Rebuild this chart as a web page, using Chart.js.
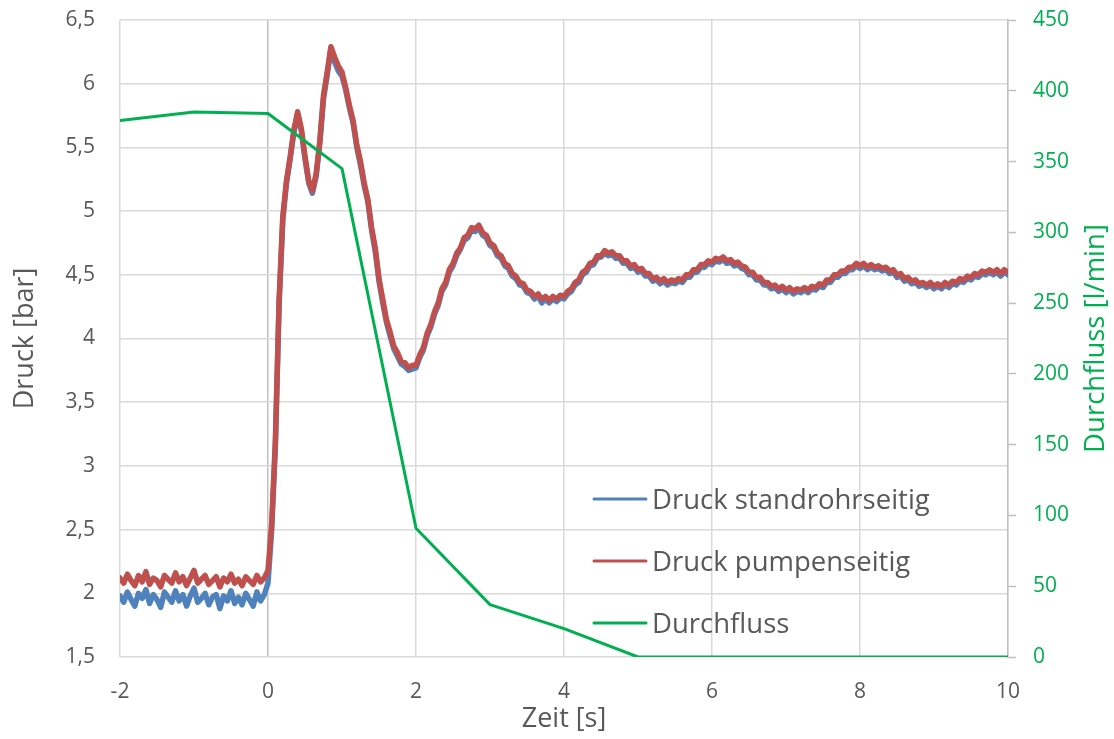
<!DOCTYPE html>
<html lang="de">
<head>
<meta charset="utf-8">
<title>Druck und Durchfluss</title>
<script src="https://cdn.jsdelivr.net/npm/chart.js@4/dist/chart.umd.min.js"></script>
<style>
  html, body { margin: 0; padding: 0; background: #ffffff; }
  #wrap { width: 1114px; height: 739px; }
</style>
</head>
<body>
<div id="wrap"><canvas id="druckChart" width="1114" height="739"></canvas></div>
<script>
// Messwerte: Zeitraster 0,05 s von -2 s bis 10 s
const zeit = [];
for (let i = 0; i <= 240; i++) zeit.push(-2 + i * 0.05);

// Druck standrohrseitig [bar], eine Zeile je Sekunde (20 Werte)
const druckStandrohr = [
  1.98, 1.93, 2.01, 1.95, 1.90, 2.00, 1.96, 2.03, 1.92, 1.99, 1.95, 1.89, 2.01, 1.97, 1.93, 2.02, 1.94, 1.99, 1.90, 1.98,
  2.04, 1.93, 1.96, 2.00, 1.91, 1.97, 1.99, 1.88, 1.98, 1.94, 2.02, 1.92, 1.97, 1.91, 2.00, 1.95, 1.90, 2.01, 1.94, 1.99,
  2.08, 2.50, 3.16, 4.27, 4.93, 5.22, 5.41, 5.62, 5.76, 5.63, 5.41, 5.22, 5.14, 5.27, 5.53, 5.88, 6.07, 6.27, 6.17, 6.10,
  6.06, 5.95, 5.81, 5.69, 5.50, 5.36, 5.20, 5.07, 4.85, 4.68, 4.45, 4.28, 4.13, 4.02, 3.92, 3.86, 3.80, 3.78, 3.75, 3.76,
  3.77, 3.85, 3.91, 4.02, 4.09, 4.19, 4.26, 4.37, 4.42, 4.52, 4.57, 4.65, 4.70, 4.77, 4.79, 4.85, 4.84, 4.87, 4.81, 4.79,
  4.73, 4.71, 4.65, 4.63, 4.57, 4.55, 4.49, 4.47, 4.42, 4.41, 4.36, 4.35, 4.31, 4.33, 4.28, 4.31, 4.28, 4.31, 4.29, 4.32,
  4.31, 4.35, 4.37, 4.42, 4.44, 4.50, 4.52, 4.57, 4.58, 4.63, 4.64, 4.67, 4.65, 4.66, 4.63, 4.63, 4.59, 4.59, 4.55, 4.56,
  4.52, 4.53, 4.49, 4.49, 4.45, 4.46, 4.43, 4.45, 4.42, 4.44, 4.43, 4.45, 4.44, 4.48, 4.48, 4.52, 4.52, 4.56, 4.56, 4.59,
  4.58, 4.61, 4.60, 4.62, 4.59, 4.60, 4.57, 4.58, 4.55, 4.54, 4.50, 4.50, 4.46, 4.46, 4.42, 4.42, 4.39, 4.40, 4.37, 4.39,
  4.36, 4.38, 4.35, 4.37, 4.36, 4.38, 4.36, 4.39, 4.38, 4.41, 4.40, 4.44, 4.44, 4.48, 4.48, 4.51, 4.51, 4.54, 4.54, 4.57,
  4.55, 4.57, 4.54, 4.56, 4.54, 4.55, 4.53, 4.54, 4.51, 4.52, 4.48, 4.49, 4.45, 4.46, 4.43, 4.44, 4.41, 4.42, 4.40, 4.42,
  4.39, 4.41, 4.39, 4.42, 4.40, 4.43, 4.42, 4.45, 4.44, 4.47, 4.46, 4.49, 4.48, 4.51, 4.50, 4.52, 4.50, 4.52, 4.49, 4.52,
  4.50
];

// Druck pumpenseitig [bar]
const druckPumpe = [
  2.12, 2.08, 2.15, 2.10, 2.06, 2.14, 2.09, 2.17, 2.07, 2.12, 2.10, 2.05, 2.14, 2.11, 2.08, 2.16, 2.09, 2.13, 2.06, 2.12,
  2.18, 2.08, 2.11, 2.14, 2.07, 2.10, 2.13, 2.05, 2.12, 2.09, 2.15, 2.08, 2.11, 2.06, 2.13, 2.10, 2.07, 2.14, 2.09, 2.12,
  2.18, 2.55, 3.20, 4.30, 4.96, 5.24, 5.43, 5.64, 5.78, 5.65, 5.43, 5.24, 5.16, 5.29, 5.55, 5.91, 6.09, 6.29, 6.21, 6.14,
  6.09, 5.97, 5.83, 5.71, 5.52, 5.39, 5.22, 5.09, 4.87, 4.71, 4.47, 4.31, 4.15, 4.05, 3.94, 3.89, 3.82, 3.81, 3.77, 3.79,
  3.79, 3.87, 3.93, 4.04, 4.11, 4.21, 4.28, 4.39, 4.44, 4.54, 4.59, 4.67, 4.71, 4.79, 4.81, 4.87, 4.86, 4.89, 4.83, 4.81,
  4.75, 4.73, 4.67, 4.65, 4.59, 4.57, 4.51, 4.49, 4.44, 4.43, 4.38, 4.37, 4.33, 4.35, 4.31, 4.33, 4.30, 4.33, 4.31, 4.34,
  4.33, 4.37, 4.39, 4.44, 4.46, 4.52, 4.54, 4.59, 4.60, 4.65, 4.65, 4.69, 4.67, 4.68, 4.65, 4.65, 4.61, 4.61, 4.57, 4.58,
  4.54, 4.55, 4.51, 4.51, 4.47, 4.48, 4.45, 4.47, 4.44, 4.46, 4.45, 4.47, 4.46, 4.50, 4.50, 4.54, 4.54, 4.58, 4.58, 4.61,
  4.60, 4.63, 4.62, 4.64, 4.61, 4.62, 4.59, 4.60, 4.57, 4.56, 4.52, 4.52, 4.48, 4.48, 4.44, 4.44, 4.41, 4.42, 4.39, 4.41,
  4.38, 4.40, 4.37, 4.39, 4.38, 4.40, 4.38, 4.41, 4.40, 4.43, 4.42, 4.46, 4.46, 4.50, 4.50, 4.53, 4.53, 4.56, 4.56, 4.59,
  4.57, 4.59, 4.56, 4.58, 4.56, 4.57, 4.55, 4.56, 4.53, 4.54, 4.50, 4.51, 4.47, 4.48, 4.45, 4.46, 4.43, 4.44, 4.42, 4.44,
  4.41, 4.43, 4.41, 4.44, 4.42, 4.45, 4.44, 4.47, 4.46, 4.49, 4.48, 4.51, 4.50, 4.53, 4.52, 4.54, 4.52, 4.54, 4.51, 4.54,
  4.52
];

// Durchfluss [l/min], ein Wert je Sekunde
const durchflussZeit = [-2, -1, 0, 1, 2, 3, 4, 5, 6, 7, 8, 9, 10];
const durchfluss = [379, 385, 384, 345, 91, 37, 20, 0, 0, 0, 0, 0, 0];

const FONT = "'Open Sans', 'Liberation Sans', sans-serif";
const GRAU = '#595959';
const GRUEN = '#00B050';

const toPoints = (xs, ys) => xs.map((x, i) => ({ x: x, y: ys[i] }));
const komma = (v) => String(v).replace('.', ',');

// feste Achsenbreite, ohne zusätzlichen Rand oben/unten durch die Beschriftung
const fixBreite = (w) => (s) => {
  s.width = w;
  s.paddingTop = 0;
  s.paddingBottom = 0;
};

// Legende im Diagramm und rechte Achsenbeschriftung (von unten nach oben gelesen)
const extras = {
  id: 'extras',
  afterDraw(chart) {
    const ctx = chart.ctx;
    const area = chart.chartArea;
    ctx.save();

    ctx.font = '27.5px ' + FONT;
    ctx.textAlign = 'left';
    ctx.textBaseline = 'alphabetic';
    const rows = [499, 561, 623];
    chart.data.datasets.forEach((ds, i) => {
      const y = rows[i];
      ctx.strokeStyle = ds.borderColor;
      ctx.lineWidth = 3;
      ctx.lineCap = 'round';
      ctx.beginPath();
      ctx.moveTo(594, y);
      ctx.lineTo(646, y);
      ctx.stroke();
      ctx.fillStyle = GRAU;
      ctx.fillText(ds.label, 652, y + 10);
    });

    ctx.translate(1096, (area.top + area.bottom) / 2);
    ctx.rotate(-Math.PI / 2);
    ctx.textAlign = 'center';
    ctx.textBaseline = 'middle';
    ctx.fillStyle = GRUEN;
    ctx.fillText('Durchfluss [l/min]', 0, 0);
    ctx.restore();
  }
};

const ctx = document.getElementById('druckChart').getContext('2d');
new Chart(ctx, {
  type: 'line',
  data: {
    datasets: [
      {
        label: 'Druck standrohrseitig',
        data: toPoints(zeit, druckStandrohr),
        borderColor: '#4F81BD',
        borderWidth: 5.5,
        yAxisID: 'y',
        order: 2
      },
      {
        label: 'Druck pumpenseitig',
        data: toPoints(zeit, druckPumpe),
        borderColor: '#C0504D',
        borderWidth: 5.5,
        yAxisID: 'y',
        order: 1
      },
      {
        label: 'Durchfluss',
        data: toPoints(durchflussZeit, durchfluss),
        borderColor: GRUEN,
        borderWidth: 3,
        yAxisID: 'y2',
        order: 0
      }
    ]
  },
  options: {
    responsive: false,
    animation: false,
    layout: { padding: { top: 20, left: 0, right: 0, bottom: 0 } },
    elements: {
      point: { radius: 0 },
      line: { tension: 0, borderJoinStyle: 'round', borderCapStyle: 'round' }
    },
    plugins: {
      legend: { display: false },
      tooltip: { enabled: false }
    },
    scales: {
      x: {
        type: 'linear',
        min: -2,
        max: 10,
        afterFit: (s) => { s.height = 82; },
        ticks: {
          stepSize: 2,
          padding: 22,
          color: GRAU,
          font: { family: FONT, size: 21 },
          callback: (v) => komma(v)
        },
        grid: {
          drawTicks: false,
          lineWidth: 1.5,
          color: (c) => (c.tick && c.tick.value === 0 ? '#bfbfbf' : '#d9d9d9')
        },
        border: { display: false },
        title: {
          display: true,
          text: 'Zeit [s]',
          color: GRAU,
          font: { family: FONT, size: 27 },
          padding: { top: 0, bottom: 3 }
        }
      },
      y: {
        position: 'left',
        min: 1.5,
        max: 6.5,
        afterFit: fixBreite(120),
        ticks: {
          stepSize: 0.5,
          padding: 25,
          color: GRAU,
          font: { family: FONT, size: 21 },
          callback: (v) => komma(v)
        },
        grid: { drawTicks: false, lineWidth: 1.5, color: '#d9d9d9' },
        border: { display: false },
        title: {
          display: true,
          text: 'Druck [bar]',
          color: GRAU,
          font: { family: FONT, size: 27 },
          padding: { top: 9, bottom: 0 }
        }
      },
      y2: {
        position: 'right',
        min: 0,
        max: 450,
        afterFit: fixBreite(106),
        ticks: {
          stepSize: 50,
          padding: 17,
          color: GRUEN,
          font: { family: FONT, size: 21 }
        },
        grid: {
          drawOnChartArea: false,
          drawTicks: true,
          tickLength: 8,
          tickColor: '#bfbfbf',
          tickWidth: 1.5
        },
        border: { display: true, color: '#bfbfbf', width: 1.5 }
      }
    }
  },
  plugins: [extras]
});
</script>
</body>
</html>
